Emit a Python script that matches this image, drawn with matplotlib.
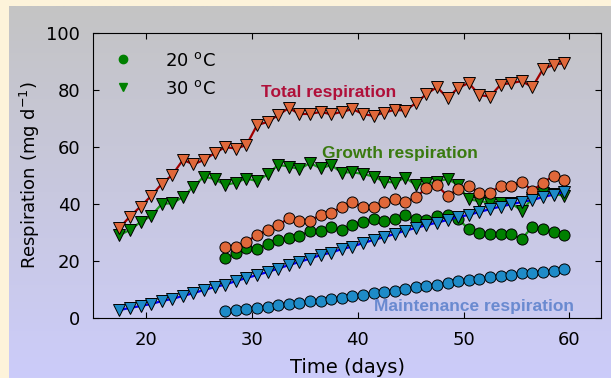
import numpy as np
import matplotlib
matplotlib.use("Agg")
import matplotlib.pyplot as plt
from matplotlib.lines import Line2D

# days of measurement
days30 = [17.5, 18.5, 19.5, 20.5, 21.5, 22.5, 23.5, 24.5, 25.5, 26.5, 27.5,
          28.5, 29.5, 30.5, 31.5, 32.5, 33.5, 34.5, 35.5, 36.5, 37.5, 38.5,
          39.5, 40.5, 41.5, 42.5, 43.5, 44.5, 45.5, 46.5, 47.5, 48.5, 49.5,
          50.5, 51.5, 52.5, 53.5, 54.5, 55.5, 56.5, 57.5, 58.5, 59.5]
days20 = days30[10:]

# 30 C (triangles)
total30 = [31.6, 35.6, 39.1, 42.8, 47.0, 50.2, 55.4, 53.9, 55.4, 57.8, 59.9,
           59.4, 60.6, 67.6, 68.7, 71.1, 73.6, 71.5, 71.5, 72.2, 71.4, 72.2,
           73.2, 71.5, 70.8, 72.0, 72.9, 72.7, 75.3, 78.5, 80.9, 77.0, 80.7,
           82.3, 78.1, 77.6, 81.8, 82.3, 83.0, 80.9, 87.2, 88.7, 89.3]
growth30 = [29.1, 30.9, 33.7, 35.8, 40.0, 40.3, 42.4, 46.1, 49.6, 48.7, 46.6,
            47.5, 48.9, 48.0, 50.4, 53.7, 53.1, 52.2, 54.3, 52.5, 53.6, 51.0,
            51.1, 50.5, 49.6, 47.8, 47.5, 49.2, 46.6, 47.2, 47.8, 48.8, 46.6,
            41.6, 41.0, 40.5, 40.5, 40.3, 37.6, 42.0, 44.0, 43.6, 42.8]
maint30 = [2.9, 3.6, 4.3, 5.0, 6.0, 6.8, 7.8, 8.8, 9.9, 10.9, 11.8,
           13.0, 14.1, 15.1, 16.2, 17.4, 18.6, 19.7, 20.9, 22.1, 23.0, 24.2,
           25.1, 26.3, 27.4, 28.4, 29.5, 30.7, 31.6, 32.6, 33.5, 34.4, 35.4,
           36.2, 37.2, 38.2, 39.1, 39.9, 40.7, 41.4, 42.4, 43.3, 44.2]

# 20 C (circles)
total20 = [25.1, 24.9, 26.6, 29.3, 30.8, 32.6, 35.0, 34.0, 34.0, 36.3, 37.0,
           38.9, 40.7, 38.9, 38.9, 40.6, 41.9, 40.6, 42.4, 45.5, 46.6, 42.7,
           45.4, 46.3, 43.8, 44.0, 46.3, 46.4, 47.8, 44.6, 47.5, 49.8, 48.3]
growth20 = [21.0, 22.8, 24.5, 24.4, 26.0, 27.4, 28.0, 28.8, 30.7, 30.6, 31.9,
            30.9, 32.7, 33.8, 34.7, 34.2, 34.7, 36.3, 34.9, 34.3, 35.8, 36.3,
            34.7, 31.2, 30.0, 29.5, 29.5, 29.5, 27.7, 32.1, 31.2, 30.1, 29.1]
maint20 = [2.7, 2.9, 3.2, 3.6, 4.1, 4.6, 5.0, 5.5, 6.0, 6.2, 6.7,
           7.2, 7.8, 8.3, 8.8, 9.2, 9.7, 10.2, 10.9, 11.3, 11.8, 12.5,
           13.0, 13.4, 13.9, 14.4, 14.8, 15.3, 15.8, 16.0, 16.3, 16.7, 17.2]

fig = plt.figure(figsize=(6.11, 3.78), dpi=100)
fig.patch.set_facecolor('#fdf3da')

# gradient panel behind the chart
bg = fig.add_axes([9/611, 0, 1 - 9/611, 1 - 6/378])
bg.set_axis_off()
top = np.array([196, 196, 196]) / 255
bot = np.array([204, 204, 250]) / 255
t = np.linspace(0, 1, 256)[:, None]
grad = top[None, :] * (1 - t) + bot[None, :] * t
bg.imshow(grad[:, None, :], aspect='auto', extent=[0, 1, 0, 1])

ax = fig.add_axes([0.152, 0.158, 0.832, 0.756])
ax.set_facecolor('none')

ms = 8
kw = dict(markeredgecolor='black', markeredgewidth=0.7, markersize=ms, lw=1.6)
ax.plot(days30, growth30, marker='v', color='#1a9a1a', markerfacecolor='#008000', **kw)
ax.plot(days20, growth20, marker='o', color='#1a9a1a', markerfacecolor='#008000', **kw)
ax.plot(days30, total30, marker='v', color='#a00000', markerfacecolor='#e0683a', **kw)
ax.plot(days20, total20, marker='o', color='#a00000', markerfacecolor='#e0683a', **kw)
ax.plot(days30, maint30, marker='v', color='#0000ff', markerfacecolor='#1e8bc8', **kw)
ax.plot(days20, maint20, marker='o', color='#0000ff', markerfacecolor='#1e8bc8', **kw)

lab = dict(fontfamily='Liberation Sans', fontweight='bold', fontsize=12.5, ha='center', va='center')
ax.text(37.3, 79.0, 'Total respiration', color='#b0103a', **lab)
ax.text(44.0, 57.7, 'Growth respiration', color='#3a7a10', **lab)
ax.text(51.0, 4.1, 'Maintenance respiration', color='#6a8ad0', **lab)

handles = [Line2D([], [], ls='none', marker='o', color='#008000', markersize=6),
           Line2D([], [], ls='none', marker='v', color='#008000', markersize=6)]
ax.legend(handles, ['20 $^\\mathrm{o}$C', '30 $^\\mathrm{o}$C'], loc='upper left',
          bbox_to_anchor=(0.01, 0.99), frameon=False, fontsize=13,
          handletextpad=1.8, labelspacing=0.55, handlelength=1.0)

ax.set_xlim(15, 63)
ax.set_ylim(0, 100)
ax.set_xticks([20, 30, 40, 50, 60])
ax.set_yticks([0, 20, 40, 60, 80, 100])
ax.tick_params(direction='in', top=True, right=True, length=4, labelsize=13, pad=9)
ax.set_xlabel('Time (days)', fontsize=14, labelpad=7)
ax.set_ylabel('Respiration (mg d$^{-1}$)', fontsize=13, labelpad=3)

plt.savefig('out.png', dpi=100, facecolor=fig.get_facecolor())
